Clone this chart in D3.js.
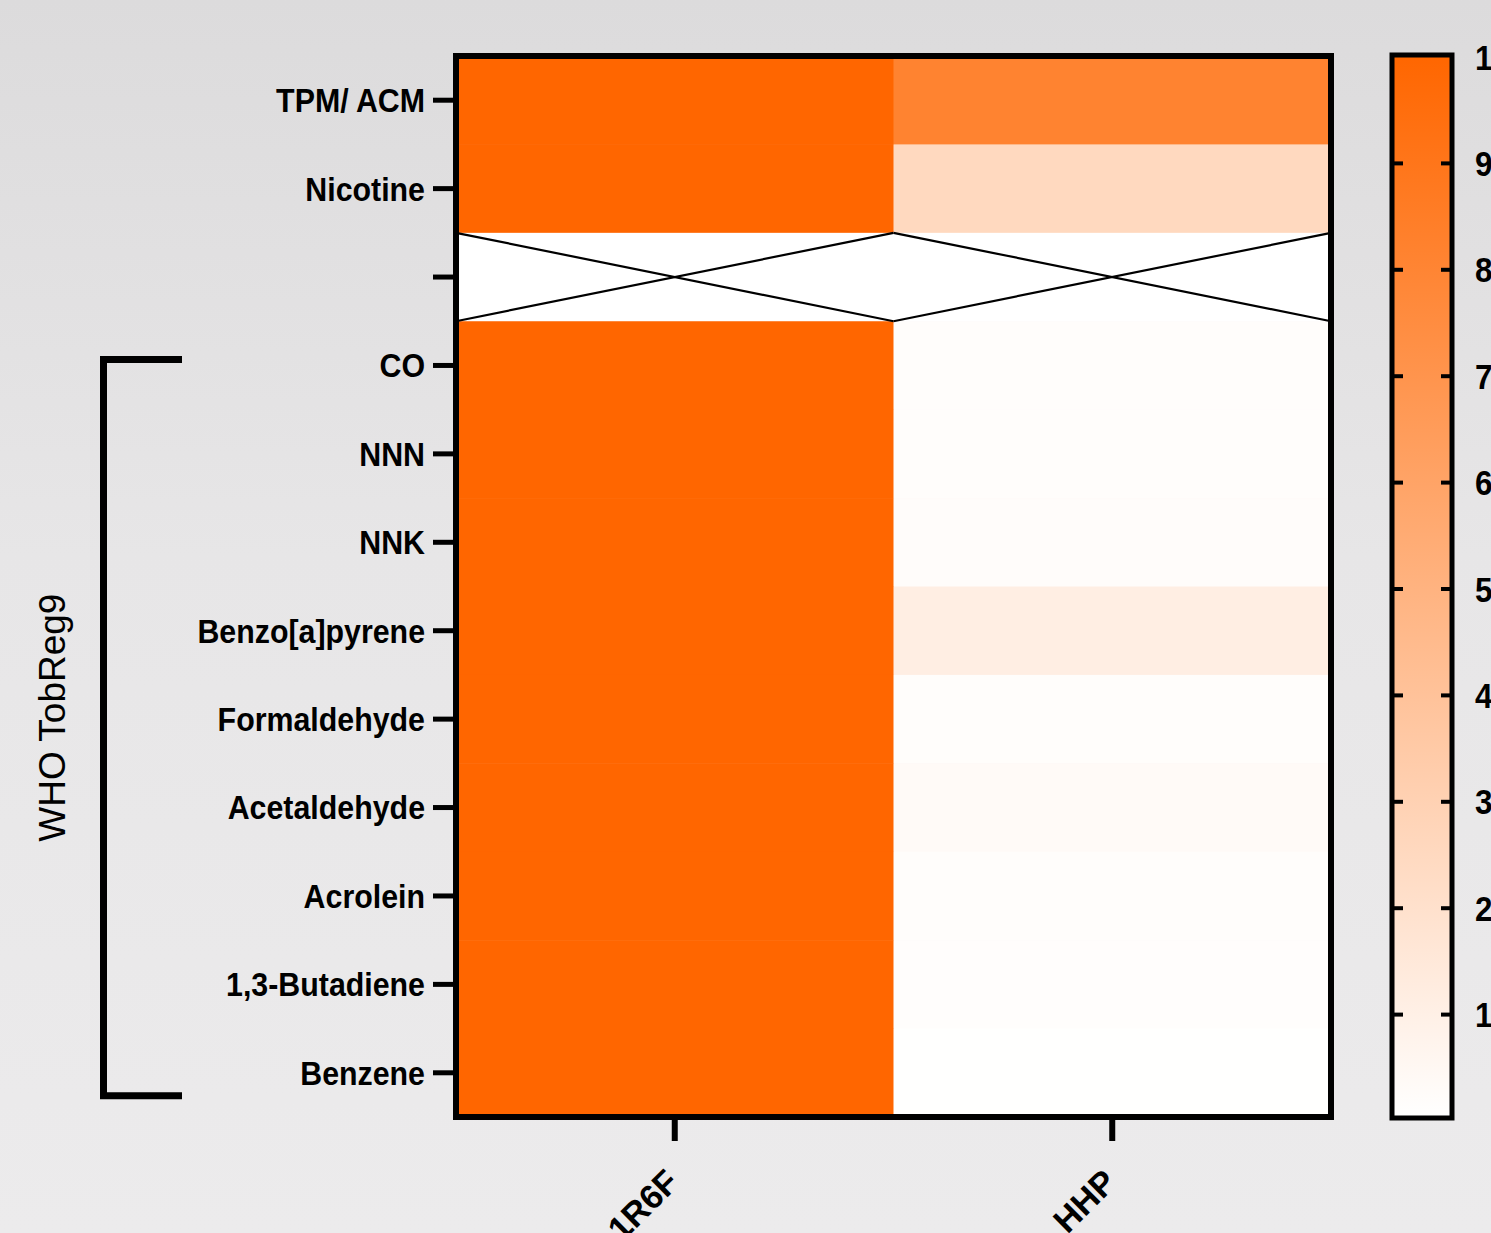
<!DOCTYPE html>
<html>
<head>
<meta charset="utf-8">
<script src="https://cdn.jsdelivr.net/npm/d3@7"></script>
<style>
  body { margin: 0; background: #e4e3e4; }
  svg { display: block; overflow: hidden; }
  .lbl { font-family: "Liberation Sans", Arial, sans-serif; font-weight: bold; fill: #000; }
</style>
</head>
<body>
<div id="chart"></div>
<script>
// products (columns) and analytes (rows); "" is the empty row
const products = ['1R6F', 'HHP'];
const analytes = ['TPM/ ACM', 'Nicotine', '', 'CO', 'NNN', 'NNK', 'Benzo[a]pyrene',
  'Formaldehyde', 'Acetaldehyde', 'Acrolein', '1,3-Butadiene', 'Benzene'];
// % of reference cigarette (null = not measured)
const ref1R6F = [100, 100, null, 100, 100, 100, 100, 100, 100, 100, 100, 100];
const hhpVals = [81, 25, null, 1.5, 1.5, 2, 11, 1.5, 3, 1.5, 1, 0.3];
const legendTicks = [10, 20, 30, 40, 50, 60, 70, 80, 90, 100];

const W = 1491, H = 1233;
const svg = d3.select('#chart').append('svg')
  .attr('width', W).attr('height', H);

// background
const defs = svg.append('defs');
const bg = defs.append('linearGradient').attr('id', 'bg')
  .attr('x1', 0).attr('y1', 0).attr('x2', 0).attr('y2', 1);
bg.append('stop').attr('offset', '0%').attr('stop-color', '#dcdbdc');
bg.append('stop').attr('offset', '45%').attr('stop-color', '#e7e6e7');
bg.append('stop').attr('offset', '100%').attr('stop-color', '#ecebec');
svg.append('rect').attr('width', W).attr('height', H).attr('fill', 'url(#bg)');

const color = d3.scaleLinear().domain([0, 100]).range(['#ffffff', '#ff6600']).clamp(true);

const plot = { left: 456, right: 1331, top: 56, bottom: 1117 };
const x = d3.scaleBand().domain(products).range([plot.left, plot.right]);
const y = d3.scaleBand().domain(analytes.map((d, i) => i)).range([plot.top, plot.bottom]);

// cells
const cells = [];
analytes.forEach((a, i) => {
  cells.push({ col: '1R6F', row: i, v: ref1R6F[i] });
  cells.push({ col: 'HHP', row: i, v: hhpVals[i] });
});

const g = svg.append('g');
g.selectAll('rect.cell')
  .data(cells)
  .join('rect')
  .attr('class', 'cell')
  .attr('x', d => x(d.col))
  .attr('y', d => y(d.row))
  .attr('width', x.bandwidth() + 0.5)
  .attr('height', y.bandwidth() + 0.5)
  .attr('fill', d => d.v == null ? '#ffffff' : color(d.v));

// crosses on missing cells
const missing = cells.filter(d => d.v == null);
missing.forEach(d => {
  const x0 = x(d.col), x1 = x0 + x.bandwidth();
  const y0 = y(d.row), y1 = y0 + y.bandwidth();
  g.append('line').attr('x1', x0).attr('y1', y0).attr('x2', x1).attr('y2', y1)
    .attr('stroke', '#000').attr('stroke-width', 2.2);
  g.append('line').attr('x1', x0).attr('y1', y1).attr('x2', x1).attr('y2', y0)
    .attr('stroke', '#000').attr('stroke-width', 2.2);
});

// frame
svg.append('rect')
  .attr('x', plot.left).attr('y', plot.top)
  .attr('width', plot.right - plot.left).attr('height', plot.bottom - plot.top)
  .attr('fill', 'none').attr('stroke', '#000').attr('stroke-width', 6);

// y axis (labels slightly condensed like the original)
const yAxis = d3.axisLeft(y).tickSize(20).tickPadding(8).tickFormat(i => analytes[i]);
const yAxisG = svg.append('g')
  .attr('transform', `translate(${plot.left - 3},0)`)
  .call(yAxis);
yAxisG.select('.domain').remove();
yAxisG.selectAll('.tick line').attr('stroke', '#000').attr('stroke-width', 5);
yAxisG.selectAll('.tick text')
  .attr('class', 'lbl')
  .style('font-size', '33px')
  .attr('x', 0)
  .attr('dy', '0.36em')
  .attr('transform', 'translate(-28,0) scale(0.92,1)');

// x axis
const xAxis = d3.axisBottom(x).tickSize(22).tickPadding(0);
const xAxisG = svg.append('g')
  .attr('transform', `translate(0,${plot.bottom + 2})`)
  .call(xAxis);
xAxisG.select('.domain').remove();
xAxisG.selectAll('.tick line').attr('stroke', '#000').attr('stroke-width', 6);
xAxisG.selectAll('.tick text')
  .attr('class', 'lbl')
  .style('font-size', '34px')
  .attr('text-anchor', 'end')
  .attr('y', 0)
  .attr('dy', null)
  .attr('transform', 'translate(6,65) rotate(-45)');

// bracket for WHO TobReg9
const br = {
  x: 103.5, x2: 182,
  top: y(3) + y.bandwidth() / 2 - 6,
  bottom: y(11) + y.bandwidth() / 2 + 23
};
svg.append('path')
  .attr('d', `M${br.x2},${br.top}H${br.x}V${br.bottom}H${br.x2}`)
  .attr('fill', 'none').attr('stroke', '#000').attr('stroke-width', 7);
svg.append('text')
  .attr('transform', `translate(65,${(br.top + br.bottom) / 2 - 10}) rotate(-90)`)
  .attr('text-anchor', 'middle')
  .style('font-family', '"Liberation Sans", Arial, sans-serif')
  .style('font-size', '37px')
  .attr('fill', '#000')
  .text('WHO TobReg9');

// colour legend
const leg = { left: 1392, right: 1452, top: 55, bottom: 1118 };
const ly = d3.scaleLinear().domain([0, 100]).range([leg.bottom + 3, leg.top + 2]);
const lg = defs.append('linearGradient').attr('id', 'leg')
  .attr('x1', 0).attr('y1', 1).attr('x2', 0).attr('y2', 0);
lg.append('stop').attr('offset', '0%').attr('stop-color', color(0));
lg.append('stop').attr('offset', '100%').attr('stop-color', color(100));
svg.append('rect')
  .attr('x', leg.left).attr('y', leg.top)
  .attr('width', leg.right - leg.left).attr('height', leg.bottom - leg.top)
  .attr('fill', 'url(#leg)').attr('stroke', '#000').attr('stroke-width', 5);

const legG = svg.append('g');
legG.selectAll('line.l')
  .data(legendTicks.filter(t => t < 100))
  .join('line')
  .attr('x1', leg.left).attr('x2', leg.left + 11)
  .attr('y1', d => ly(d)).attr('y2', d => ly(d))
  .attr('stroke', '#000').attr('stroke-width', 4);
legG.selectAll('line.r')
  .data(legendTicks.filter(t => t < 100))
  .join('line')
  .attr('x1', leg.right - 11).attr('x2', leg.right)
  .attr('y1', d => ly(d)).attr('y2', d => ly(d))
  .attr('stroke', '#000').attr('stroke-width', 4);
legG.selectAll('text')
  .data(legendTicks)
  .join('text')
  .attr('class', 'lbl')
  .style('font-size', '35px')
  .attr('transform', d => `translate(1475,${ly(d)}) scale(0.9,1)`)
  .attr('dy', '0.36em')
  .text(d => d);
</script>
</body>
</html>
